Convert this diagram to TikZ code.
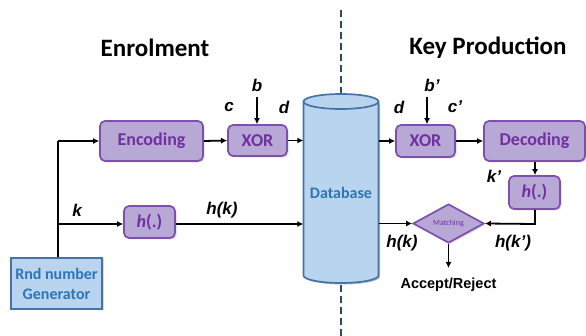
\documentclass[tikz,border=0pt]{standalone}
\usepackage{fontspec}
\setmainfont{Carlito}
\setsansfont{Carlito}
\newfontfamily\labelfont{Liberation Sans}
\usetikzlibrary{shapes.geometric,arrows.meta,shadows}

\definecolor{boxfill}{RGB}{184,168,214}
\definecolor{boxline}{RGB}{125,80,175}
\definecolor{boxtext}{RGB}{112,48,160}
\definecolor{dbfill}{RGB}{185,212,238}
\definecolor{dbline}{RGB}{70,115,165}
\definecolor{dbtext}{RGB}{46,117,182}
\definecolor{divider}{RGB}{47,72,100}

\tikzset{
  procbox/.style={draw=boxline, line width=1.7pt, fill=boxfill, rounded corners=5pt,
    text=boxtext, font=\bfseries\fontsize{18}{18}\selectfont, align=center,
    drop shadow={shadow xshift=1.5pt, shadow yshift=-1.5pt, opacity=0.3}},
  bluebox/.style={draw=dbline, line width=1.7pt, fill=dbfill,
    text=dbtext, font=\bfseries\fontsize{16}{20}\selectfont, align=center,
    drop shadow={shadow xshift=1.5pt, shadow yshift=-1.5pt, opacity=0.3}},
  flow/.style={-{Latex[length=6pt,width=6pt]}, line width=1.8pt, black},
  plain/.style={line width=1.8pt, black},
  sig/.style={font=\labelfont\bfseries\itshape\fontsize{17}{17}\selectfont},
  title/.style={font=\bfseries\fontsize{25}{25}\selectfont},
}

\begin{document}
\begin{tikzpicture}[x=1pt,y=-1pt]
\useasboundingbox (0,0) rectangle (586,336);

% divider between the two phases
\draw[divider, line width=2.2pt, dash pattern=on 7pt off 4pt] (341,10) -- (341,336);

% database cylinder (anchor node plus hand-drawn body)
\node[minimum width=75pt, minimum height=189pt, inner sep=0pt] (db) at (341,188.5) {};
\fill[black, opacity=0.25] (305,103) -- (305,277)
  arc[start angle=180, end angle=0, x radius=37.5, y radius=7.5] -- (380,103)
  arc[start angle=0, end angle=180, x radius=37.5, y radius=7.5] -- cycle;
\filldraw[draw=dbline, fill=dbfill, line width=1.7pt] (303.5,101.5) -- (303.5,275.5)
  arc[start angle=180, end angle=0, x radius=37.5, y radius=7.5] -- (378.5,101.5)
  arc[start angle=0, end angle=-180, x radius=37.5, y radius=7.5] -- cycle;
\draw[dbline, line width=1.7pt] (303.5,101.5)
  arc[start angle=180, end angle=0, x radius=37.5, y radius=7.5];
\node[text=dbtext, font=\bfseries\fontsize{16}{16}\selectfont] (dblabel) at (341,193) {Database};

% titles
\node[title] (t1) at (155,48) {Enrolment};
\node[title] (t2) at (488,48) {Key Production};

% enrolment blocks
\node[procbox, minimum width=103pt, minimum height=40pt] (enc) at (151.5,141) {Encoding};
\node[procbox, minimum width=59pt, minimum height=31pt] (xor1) at (257.5,140.5) {XOR};
\node[procbox, minimum width=51pt, minimum height=32pt] (h1) at (149.5,222) {\textit{h}(.)};
\node[bluebox, minimum width=91pt, minimum height=51pt, inner sep=1pt] (rnd) at (56.5,283.5) {Rnd number\\Generator};

% key production blocks
\node[procbox, minimum width=59pt, minimum height=32pt] (xor2) at (425.5,141) {XOR};
\node[procbox, minimum width=101pt, minimum height=40pt] (dec) at (534.5,141) {Decoding};
\node[procbox, minimum width=51pt, minimum height=33pt] (h2) at (534.5,192.5) {\textit{h}(.)};
\node[diamond, aspect=1.8, minimum width=71pt, minimum height=39pt, inner sep=0pt,
  draw=boxline, line width=1.7pt, fill=boxfill, text=boxtext,
  font=\fontsize{8}{8}\selectfont,
  drop shadow={shadow xshift=1.5pt, shadow yshift=-1.5pt, opacity=0.3}] (match) at (448.5,223.5) {Matching};

% routing points
\coordinate (split) at (58,224);
\coordinate (top) at (58,141);
\coordinate (bin) at (257,97);
\coordinate (bin2) at (427,97);
\coordinate (hbend) at (535,224);
\coordinate (out) at (448.5,268);

% enrolment connections
\draw[plain] (rnd.north -| split) -- (top);
\draw[flow] (top) -- (enc.west);
\draw[flow] (split) -- (split -| h1.west);
\draw[flow] (h1.east |- split) -- (split -| db.west);
\draw[flow] (enc.east) -- (xor1.west);
\draw[flow] (xor1.east) -- (xor1.east -| db.west);
\draw[flow] (bin) -- (xor1.north -| bin);

% key production connections
\draw[flow] (db.east |- xor2.west) -- (xor2.west);
\draw[flow] (bin2) -- (xor2.north -| bin2);
\draw[flow] (xor2.east) -- (dec.west);
\draw[flow] (dec.south -| hbend) -- (h2.north -| hbend);
\draw[flow] (h2.south -| hbend) -- (hbend) -- (match.east);
\draw[flow] (db.east |- match.west) -- (match.west);
\draw[flow] (match.south) -- (out);

% signal labels
\node[sig] (lb) at (257,85) {b};
\node[sig] (lc) at (229,107) {c};
\node[sig] (ld) at (284,107) {d};
\node[sig] (lk) at (77,210) {k};
\node[sig] (lhk) at (222,210) {h(k)};
\node[sig] (lb2) at (432,85) {b’};
\node[sig] (ld2) at (399,107) {d};
\node[sig] (lc2) at (455,107) {c’};
\node[sig] (lk2) at (494,176) {k’};
\node[sig] (lhk2) at (402,243) {h(k)};
\node[sig] (lhk3) at (513,243) {h(k’)};
\node[font=\labelfont\bfseries\fontsize{14.5}{14.5}\selectfont] (res) at (448.5,285) {Accept/Reject};
\end{tikzpicture}
\end{document}
